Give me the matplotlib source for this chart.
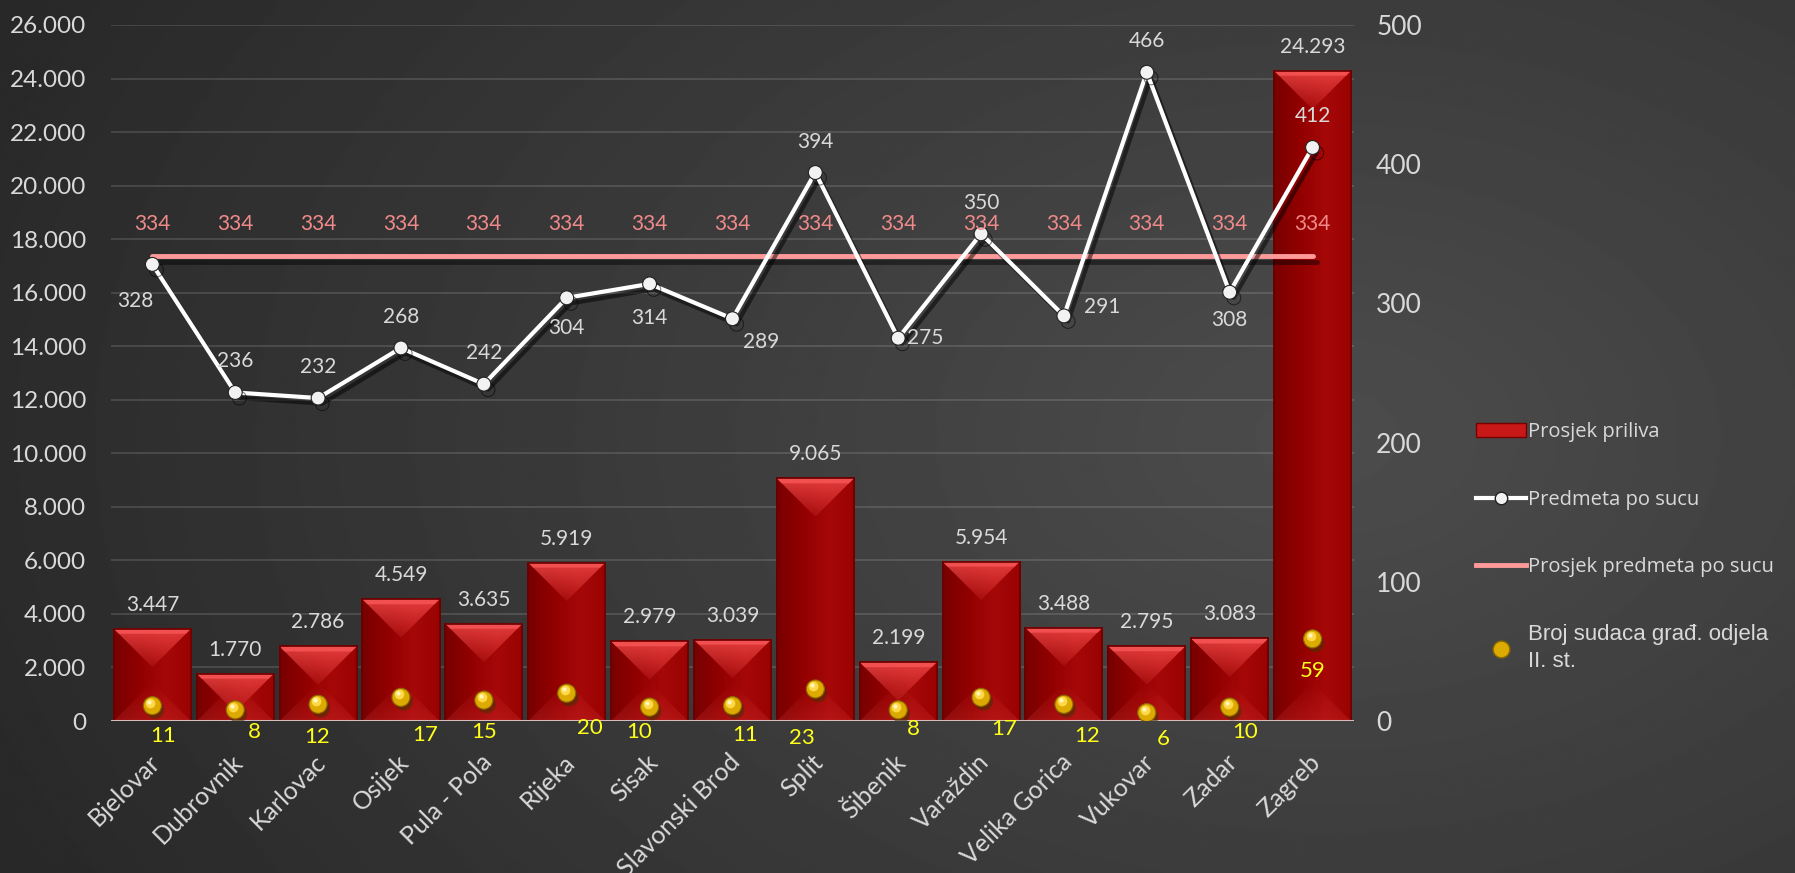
import numpy as np
import matplotlib
matplotlib.use("Agg")
import matplotlib.pyplot as plt
import matplotlib.patheffects as pe
import matplotlib.transforms as mtransforms
from matplotlib.patches import Polygon, Patch
from matplotlib.lines import Line2D
from matplotlib.colors import LinearSegmentedColormap

cities = ["Bjelovar", "Dubrovnik", "Karlovac", "Osijek", "Pula - Pola", "Rijeka",
          "Sisak", "Slavonski Brod", "Split", "Šibenik", "Varaždin", "Velika Gorica",
          "Vukovar", "Zadar", "Zagreb"]
priliv = [3447, 1770, 2786, 4549, 3635, 5919, 2979, 3039, 9065, 2199, 5954, 3488, 2795, 3083, 24293]
po_sucu = [328, 236, 232, 268, 242, 304, 314, 289, 394, 275, 350, 291, 466, 308, 412]
prosjek = [334] * 15
suci = [11, 8, 12, 17, 15, 20, 10, 11, 23, 8, 17, 12, 6, 10, 59]
left_ticks = list(range(0, 26001, 2000))
right_ticks = [0, 100, 200, 300, 400, 500]

# label placement (pixel offsets), styling only
line_lbl_off = [(-17, -37), (0, 31), (0, 31), (0, 31), (0, 31), (0, -30), (0, -34), (29, -23),
                (0, 31), (27, 0), (0, 31), (38, 9), (0, 31), (0, -28), (0, 31)]
suci_lbl_off = [(11, -30), (19, -22), (-1, -33), (24, -38), (0, -32), (23, -35), (-11, -25), (13, -29),
                (-13, -49), (15, -19), (23, -32), (23, -32), (16, -26), (15, -25), (0, -32)]

FONT = "Lato"
TXT = "#d9d9d9"
W = 0.93

fig = plt.figure(figsize=(17.95, 8.73), dpi=100)

# background gradient
bg = fig.add_axes([0, 0, 1, 1], zorder=-10)
yy, xx = np.mgrid[0:1:300j, 0:1:600j]
r = np.sqrt(((xx - 0.74) / 0.8) ** 2 + ((yy - 0.5) / 1.1) ** 2)
shade = 0.30 - 0.14 * np.clip(r, 0, 1)
bg.imshow(shade, cmap="gray", vmin=0, vmax=1, extent=[0, 1, 0, 1], aspect="auto")
bg.axis("off")

ax = fig.add_axes([0.0618, 0.1741, 0.6925, 0.7973])
ax.set_facecolor("none")
ax2 = ax.twinx()

x = np.arange(len(cities))
ax.set_xlim(-0.5, len(cities) - 0.5)
ax.set_ylim(0, 26000)
ax2.set_ylim(0, 500)

# gridlines
ax.set_yticks(left_ticks)
ax.set_yticklabels([f"{v:,}".replace(",", ".") for v in left_ticks])
ax.grid(axis="y", color="white", alpha=0.13, lw=1.4)
ax.set_axisbelow(True)

# bars with bevel
bars = ax.bar(x, priliv, width=W, color="#960000", edgecolor="#6a0000", lw=1.2, zorder=2)
bbox = ax.get_window_extent()
y_per_px = 26000 / bbox.height
x_px = bbox.width / len(cities)
depth = 0.5 * W * x_px * y_per_px
strip_px = 5
cmap = LinearSegmentedColormap.from_list("bar", ["#780000", "#920000", "#a60808", "#9a0202"])
grad = np.linspace(0, 1, 100).reshape(1, -1)
top_rgba = np.zeros((60, 1, 4))
top_rgba[..., 0] = 0.95
top_rgba[..., 1] = 0.28
top_rgba[..., 2] = 0.28
top_rgba[:, 0, 3] = np.linspace(0.85, 0.15, 60)
bot_rgba = top_rgba.copy()
bot_rgba[:, 0, 3] = np.linspace(0.0, 0.22, 60)
for b, h in zip(bars, priliv):
    x0 = b.get_x()
    x1 = x0 + b.get_width()
    xc = x0 + b.get_width() / 2
    im = ax.imshow(grad, cmap=cmap, extent=[x0, x1, 0, h], aspect="auto", zorder=2.1)
    im.set_clip_path(b)
    bot = Polygon([(x0, 0), (x1, 0), (xc, depth)], closed=True, fc="none", ec="none", zorder=2.2)
    ax.add_patch(bot)
    bot.set_clip_path(b)
    ib = ax.imshow(bot_rgba, extent=[x0, x1, 0, depth], aspect="auto", zorder=2.2)
    ib.set_clip_path(bot)
    top = Polygon([(x0, h), (x1, h), (xc, h - depth)], closed=True, fc="none", ec="none", zorder=2.3)
    ax.add_patch(top)
    top.set_clip_path(b)
    it = ax.imshow(top_rgba, extent=[x0, x1, h - depth, h], aspect="auto", zorder=2.3)
    it.set_clip_path(top)
    inset = strip_px / x_px
    band = Polygon([(x0, h), (x1, h), (x1 - inset, h - strip_px * y_per_px),
                    (x0 + inset, h - strip_px * y_per_px)], closed=True, fc="#f25050", ec="none", zorder=2.4)
    ax.add_patch(band)
    band.set_clip_path(b)
    ax.add_patch(Polygon([(x0, 0), (x0, h), (x1, h), (x1, 0)], closed=True, fc="none", ec="#6a0000", lw=1.2, zorder=2.5))
    ax.annotate(f"{h:,}".replace(",", "."), (xc, h), xytext=(0, 24), textcoords="offset pixels",
                ha="center", va="center", color=TXT, fontsize=15, family=FONT, zorder=5)
ax.set_xlim(-0.5, len(cities) - 0.5)
ax.set_ylim(0, 26000)

ax.axhline(0, color="#d8bcbc", lw=2.2, zorder=3)

# average line
ax2.plot(x, prosjek, color="#ff9a9a", lw=3.5, solid_capstyle="round", zorder=3,
         path_effects=[pe.SimpleLineShadow(offset=(3, -4), alpha=0.45, shadow_color="black"), pe.Normal()])
for xi, v in zip(x, prosjek):
    ax2.annotate(str(v), (xi, v), xytext=(0, 32), textcoords="offset pixels", ha="center", va="center",
                 color="#f08a8a", fontsize=15, family=FONT, zorder=6)

# judges per court
ax2.plot(x, suci, ls="none", marker="o", ms=13, mfc="#dcaa00", mec="#8a6a00", mew=0.8, zorder=4,
         path_effects=[pe.SimplePatchShadow(offset=(2, -3), alpha=0.55), pe.Normal()])
hl = mtransforms.offset_copy(ax2.transData, fig=fig, x=-2, y=3, units="dots")
ax2.plot(x, suci, ls="none", marker="o", ms=7, mfc="#ffd84a", mec="none", transform=hl, zorder=4.1)
hl2 = mtransforms.offset_copy(ax2.transData, fig=fig, x=-3, y=4, units="dots")
ax2.plot(x, suci, ls="none", marker="o", ms=3, mfc="#fff6c0", mec="none", transform=hl2, zorder=4.2)
for xi, v, (dx, dy) in zip(x, suci, suci_lbl_off):
    ax2.annotate(str(v), (xi, v), xytext=(dx, dy), textcoords="offset pixels", ha="center", va="center",
                 color="#ffff1a", fontsize=16, family=FONT, zorder=6)

# cases per judge
ax2.plot(x, po_sucu, color="white", lw=3, marker="o", ms=10, mfc="#f2f2f2", mec="#222222", mew=0.8, zorder=5,
         path_effects=[pe.SimpleLineShadow(offset=(3, -4), alpha=0.5, shadow_color="black"), pe.Normal()])
for xi, v, (dx, dy) in zip(x, po_sucu, line_lbl_off):
    ax2.annotate(str(v), (xi, v), xytext=(dx, dy), textcoords="offset pixels", ha="center", va="center",
                 color=TXT, fontsize=15, family=FONT, zorder=6)

ax2.set_yticks(right_ticks)
ax2.set_yticklabels([str(v) for v in right_ticks])

# axes styling
ax.set_xticks(x)
ax.set_xticklabels(cities, rotation=45, ha="right", va="top", rotation_mode="anchor")
ax.tick_params(axis="x", length=0, pad=21, labelsize=18, labelcolor=TXT)
ax.tick_params(axis="y", length=0, pad=18, labelsize=17.5, labelcolor=TXT)
ax2.tick_params(axis="y", length=0, pad=16, labelsize=19, labelcolor=TXT)
shift = mtransforms.ScaledTranslation(-4 / 100, 0, fig.dpi_scale_trans)
for lbl in ax.get_xticklabels():
    lbl.set_transform(lbl.get_transform() + shift)
for lbl in ax.get_xticklabels() + ax.get_yticklabels() + ax2.get_yticklabels():
    lbl.set_family(FONT)
for a in (ax, ax2):
    for s in a.spines.values():
        s.set_visible(False)

# legend
handles = [
    Patch(facecolor="#c81818", edgecolor="#7a0000"),
    Line2D([], [], color="white", lw=3, marker="o", ms=9, mfc="#f2f2f2", mec="#222222"),
    Line2D([], [], color="#ff9a9a", lw=3.5),
    Line2D([], [], ls="none", marker="o", ms=12, mfc="#dcaa00", mec="#8a6a00"),
]
labels = ["Prosjek priliva", "Predmeta po sucu", "Prosjek predmeta po sucu", "Broj sudaca građ. odjela\nII. st."]
leg = fig.legend(handles, labels, loc="upper left", bbox_to_anchor=(0.812, 0.537), frameon=False,
                 labelcolor=TXT, handlelength=2.5, handletextpad=0.1, labelspacing=2.35,
                 prop={"family": "Open Sans", "size": 14.5})
texts = leg.get_texts()
texts[3].set_family("Liberation Sans")
texts[3].set_fontsize(16)
texts[3].set_linespacing(1.35)

fig.savefig("out.png", dpi=100)
